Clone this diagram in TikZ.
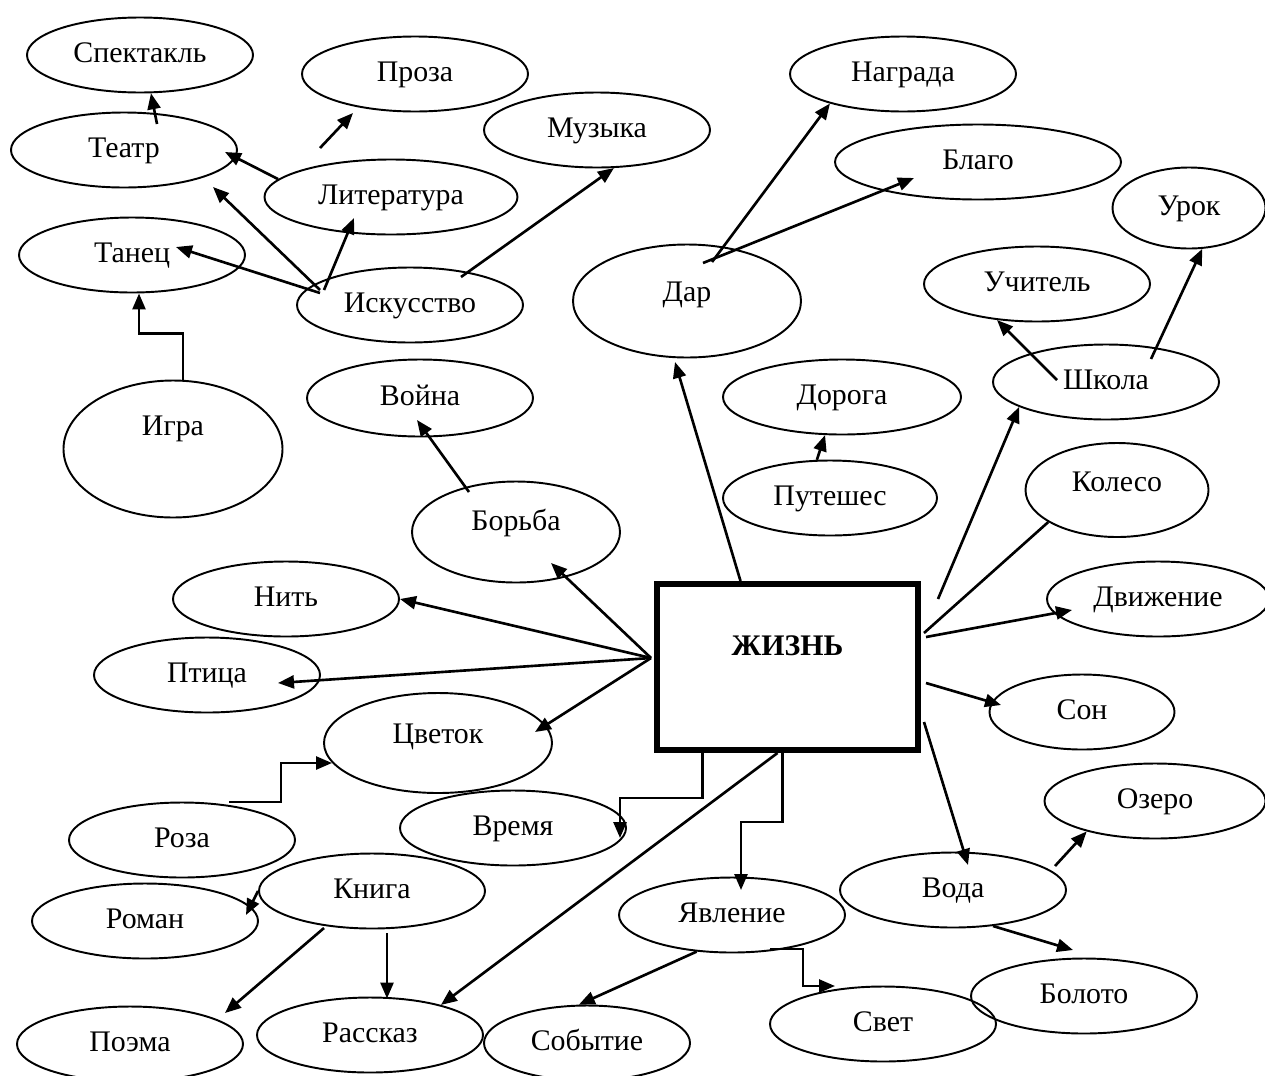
\documentclass[tikz,border=0pt]{standalone}
\usepackage{fontspec}
\setmainfont{Liberation Serif}
\usepackage{tikz}
\usetikzlibrary{shapes.geometric, arrows.meta, calc}
\tikzstyle{core} = [draw, rectangle, line width=3.4pt, inner sep=0pt, minimum width=52.2mm, minimum height=33.2mm, text height=14.2mm, text depth=19mm]
\tikzstyle{idea} = [draw, ellipse, line width=1.1pt, inner sep=0pt, minimum width=45.2mm, minimum height=15mm, text height=3.9mm, text depth=1.1mm]
\tikzstyle{arrow} = [-{Triangle[length=3.2mm, width=2.6mm]}, line width=1.5pt]
\tikzstyle{link} = [line width=1.5pt]
\begin{document}
\begin{tikzpicture}[x=0.2mm, y=-0.2mm, font=\fontsize{17}{20}\selectfont]
				\useasboundingbox (0,0) rectangle (1265,1075);
				\node (zhizn)[core] at (787.5,667) {\textbf{ЖИЗНЬ}};
				\node (spektakl)[idea] at (140,55) {Спектакль};
				\node (teatr)[idea] at (124,150) {Театр};
				\node (proza)[idea] at (415,74) {Проза};
				\node (muzyka)[idea] at (597,130) {Музыка};
				\node (literatura)[idea, minimum width=50.6mm] at (391,197) {Литература};
				\node (tanec)[idea] at (132,255) {Танец};
				\node (iskusstvo)[idea] at (410,305) {Искусство};
				\node (igra)[idea, minimum width=43.8mm, minimum height=27.4mm, text depth=9.3mm] at (173,449) {Игра};
				\node (nagrada)[idea] at (903,74) {Награда};
				\node (blago)[idea, minimum width=57.2mm] at (978,162) {Благо};
				\node (dar)[idea, minimum width=45.6mm, minimum height=22.6mm, text depth=3.9mm] at (687,301) {Дар};
				\node (urok)[idea, minimum width=30.6mm, minimum height=16.2mm] at (1189,208) {Урок};
				\node (uchitel)[idea] at (1037,284) {Учитель};
				\node (shkola)[idea] at (1106,382) {Школа};
				\node (voyna)[idea, minimum height=15.4mm] at (420,398) {Война};
				\node (doroga)[idea, minimum width=47.6mm] at (842,397) {Дорога};
				\node (puteshes)[idea, minimum width=42.8mm] at (830,498) {Путешес};
				\node (koleso)[idea, minimum width=36.6mm, minimum height=18.8mm, text depth=3.5mm] at (1117,490) {Колесо};
				\node (borba)[idea, minimum width=41.6mm, minimum height=20.2mm, text depth=4.7mm] at (516,532) {Борьба};
				\node (nit)[idea] at (286,599) {Нить};
				\node (dvizhenie)[idea, minimum width=44.4mm] at (1158,599) {Движение};
				\node (ptica)[idea] at (207,675) {Птица};
				\node (cvetok)[idea, minimum width=45.6mm, minimum height=20mm, text depth=3.9mm] at (438,743) {Цветок};
				\node (son)[idea, minimum width=37mm] at (1082,712) {Сон};
				\node (roza)[idea] at (182,840) {Роза};
				\node (vremya)[idea] at (513,828) {Время};
				\node (ozero)[idea, minimum width=44.2mm] at (1155,801) {Озеро};
				\node (kniga)[idea] at (372,891) {Книга};
				\node (roman)[idea] at (145,921) {Роман};
				\node (yavlenie)[idea] at (732,915) {Явление};
				\node (voda)[idea] at (953,890) {Вода};
				\node (boloto)[idea] at (1084,996) {Болото};
				\node (svet)[idea] at (883,1024) {Свет};
				\node (poema)[idea] at (130,1044) {Поэма};
				\node (rasskaz)[idea] at (370,1035) {Рассказ};
				\node (sobytie)[idea, minimum width=41.2mm] at (587,1043) {Событие};
				\coordinate (hub) at ($(zhizn.west)+(-3,-9)$);

				\draw [arrow] ($(teatr)+(33,-26)$) -- (spektakl.-74);
				\draw [arrow] (literatura.171) -- ($(teatr)+(101,2)$);
				\draw [arrow] ($(literatura)+(-71,-49)$) -- ($(proza)+(-62,39)$);
				\draw [arrow] ($(iskusstvo)+(-90,-15)$) -- ($(teatr)+(89,37)$);
				\draw [arrow] ($(iskusstvo)+(-90,-12)$) -- ($(tanec)+(44,-8)$);
				\draw [arrow] ($(iskusstvo)+(-86,-15)$) -- ($(literatura)+(-37,21)$);
				\draw [arrow] ($(iskusstvo)+(51,-28)$) -- (muzyka.-66);
				\draw [arrow] ($(igra.north)+(10,0)$) -- ++(0,-46) -| ($(tanec.south)+(7,0)$);
				\draw [arrow] ($(borba)+(-47,-40)$) -- ($(voyna)+(-3,22)$);
				\draw [arrow] (hub) -- ($(borba)+(35,31)$);
				\draw [arrow] (hub) -- (nit.east);
				\draw [arrow] (hub) -- ($(ptica)+(71,8)$);
				\draw [arrow] (hub) -- ($(cvetok)+(97,-11)$);
				\draw [arrow] ($(zhizn.north)+(-47,0)$) -- ($(dar)+(-12,61)$);
				\draw [arrow] ($(dar)+(25,-39)$) -- (nagrada.202);
				\draw [arrow] ($(dar)+(16,-38)$) -- ($(blago)+(-64,16)$);
				\draw [arrow] (puteshes.109) -- (doroga.-114);
				\draw [arrow] ($(zhizn.north east)+(17,18)$) -- (shkola.196);
				\draw [arrow] ($(shkola)+(-49,-2)$) -- (uchitel.-138);
				\draw [arrow] ($(shkola)+(45,-23)$) -- (urok.-72);
				\draw [link] (koleso.205) -- ($(zhizn.east)+(3,-34)$);
				\draw [arrow] ($(zhizn.east)+(5,-30)$) -- ($(dvizhenie)+(-86,11)$);
				\draw [arrow] ($(zhizn.east)+(5,16)$) -- ($(son)+(-81,-7)$);
				\draw [arrow] ($(zhizn.east)+(3,55)$) -- ($(voda)+(15,-25)$);
				\draw [arrow] ($(voda)+(102,-24)$) -- (ozero.204);
				\draw [arrow] (voda.-42) -- ($(boloto)+(-11,-46)$);
				\draw [arrow] ($(zhizn.south)+(-85,0)$) -- ++(0,45) -| ($(vremya)+(107,10)$);
				\draw [arrow] ($(zhizn.south)+(-10,0)$) -- (rasskaz.23);
				\draw [arrow] ($(zhizn.south)+(-5,0)$) -- ++(0,69) -| ($(yavlenie)+(9,-25)$);
				\draw [arrow] ($(yavlenie)+(38,34)$) -- ++(33,0) |- ($(svet)+(-48,-38)$);
				\draw [arrow] (yavlenie.-134) -- (sobytie.102);
				\draw [arrow] ($(roza)+(47,-38)$) -- ++(52,0) |- ($(cvetok)+(-106,20)$);
				\draw [arrow] (kniga.west) -- ($(roman)+(101,-6)$);
				\draw [arrow] ($(kniga)+(-48,37)$) -- ($(poema)+(95,-31)$);
				\draw [arrow] ($(kniga.south)+(15,4)$) -- ($(rasskaz.north)+(17,2)$);
			\end{tikzpicture}
\end{document}
